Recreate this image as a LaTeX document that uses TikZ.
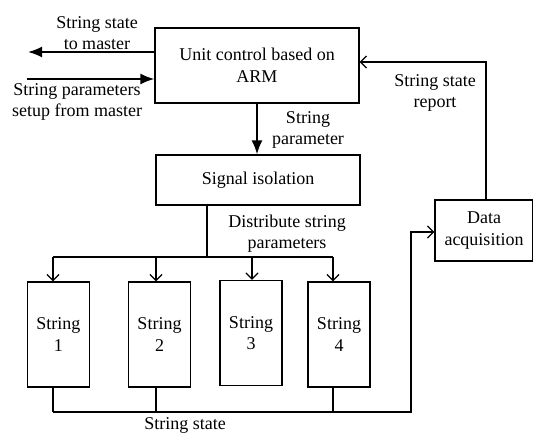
\documentclass[tikz,border=0pt]{standalone}
\usepackage{fontspec}
\setmainfont{Liberation Serif}
\usetikzlibrary{arrows.meta}
\begin{document}
\begin{tikzpicture}[x=1pt,y=-1pt,
  box/.style={draw, line width=1.3pt, align=center, inner sep=0pt, font=\fontsize{18}{21.5}\selectfont},
  lbl/.style={align=center, inner sep=0pt, font=\fontsize{18}{21}\selectfont},
  ln/.style={line width=1.3pt},
  fillarrow/.style={line width=1.8pt, -{Latex[length=14pt,width=11pt]}},
  openarrow/.style={line width=1.3pt, -{Straight Barb[length=6pt,width=12pt]}}]
\useasboundingbox (0,0) rectangle (533,434);

\node[box, minimum width=204pt, minimum height=75pt] (unit) at (257,65.5) {Unit control based on\\ARM};
\node[box, minimum width=204pt, minimum height=50pt] (sig) at (258,180) {Signal isolation};
\node[box, minimum width=62pt, minimum height=105pt] (s1) at (58.3,334.5) {String\\1};
\node[box, minimum width=62pt, minimum height=105pt] (s2) at (159.5,334.5) {String\\2};
\node[box, minimum width=62pt, minimum height=105pt] (s3) at (251,333) {String\\3};
\node[box, minimum width=62pt, minimum height=105pt] (s4) at (339,334.5) {String\\4};
\node[box, minimum width=98pt, minimum height=61pt] (data) at (484,230.5) {Data\\acquisition};

\node[lbl] (l1) at (97,33) {String state\\to master};
\node[lbl] (l2) at (77,102) {String parameters\\setup from master};
\node[lbl] (l3) at (308,129.5) {String\\parameter};
\node[lbl] (l4) at (287,234) {Distribute string\\parameters};
\node[lbl] (l5) at (435,93) {String state\\report};
\node[lbl] (l6) at (185,425) {String state};

% master arrows
\coordinate (mout) at (28,52);
\coordinate (min) at (27,79);
\draw[fillarrow] (unit.west |- mout) -- (mout);
\draw[fillarrow] (min) -- (unit.west |- min);

% unit -> signal isolation
\draw[fillarrow] (unit.south) -- (unit.south |- sig.north);

% distribution bus
\coordinate (split) at (207,257);
\coordinate (a1) at (53,257);
\coordinate (a2) at (156,257);
\coordinate (a3) at (252,257);
\coordinate (a4) at (333,257);
\draw[ln] (sig.south -| split) -- (split);
\draw[ln] (a1) -- (a4);
\draw[openarrow] (a1) -- (a1 |- s1.north);
\draw[openarrow] (a2) -- (a2 |- s2.north);
\draw[openarrow] (a3) -- (a3 |- s3.north);
\draw[openarrow] (a4) -- (a4 |- s4.north);

% string state bus
\coordinate (b1) at (53,412);
\coordinate (b2) at (156,412);
\coordinate (b4) at (333,412);
\coordinate (bend) at (411,412);
\coordinate (bup) at (411,232);
\draw[ln] (b1 |- s1.south) -- (b1);
\draw[ln] (b2 |- s2.south) -- (b2);
\draw[ln] (b4 |- s4.south) -- (b4);
\draw[openarrow] (b1) -- (bend) -- (bup) -- (bup -| data.west);

% report back
\coordinate (rtop) at (486,62);
\draw[openarrow] (data.north -| rtop) -- (rtop) -- (rtop -| unit.east);
\end{tikzpicture}
\end{document}
